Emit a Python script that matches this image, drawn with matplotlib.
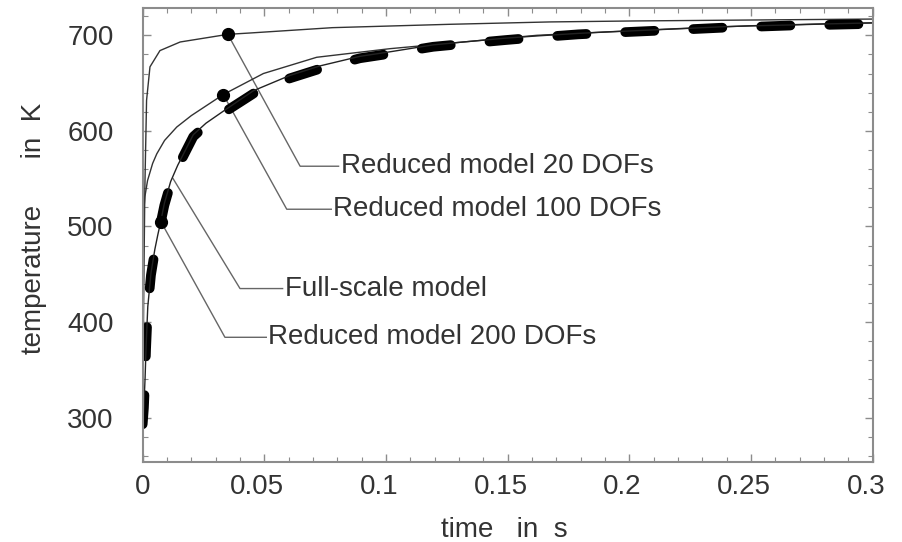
import numpy as np
import matplotlib
matplotlib.use("Agg")
import matplotlib.pyplot as plt
from matplotlib.transforms import ScaledTranslation

plt.rcParams['font.family'] = ['Liberation Sans', 'DejaVu Sans']

# curves (time in s, temperature in K)
t_full = [0, 0.0005, 0.001, 0.0014, 0.0021, 0.0034, 0.005, 0.0062, 0.0075, 0.0089,
          0.0115, 0.0144, 0.018, 0.0208, 0.026, 0.0345, 0.0455, 0.0605, 0.0729, 0.0893,
          0.1023, 0.1194, 0.1318, 0.149, 0.163, 0.179, 0.191, 0.2085, 0.222, 0.2386,
          0.252, 0.269, 0.2825, 0.3]
T_full = [293, 310, 340, 372, 414, 449, 474, 489, 505, 522,
          545, 562, 580, 594, 606, 621, 639, 655, 665, 676,
          681, 688, 691, 695, 698, 701, 702.5, 704.5, 706, 708,
          709, 710.5, 711, 712]

t_200 = [0, 0.0005, 0.001, 0.0014, 0.0021, 0.0034, 0.005, 0.0062, 0.0075, 0.0089,
         0.0115, 0.0144, 0.018, 0.0208, 0.026, 0.0345, 0.0455, 0.0605, 0.0729, 0.0893,
         0.1023, 0.1194, 0.1318, 0.149, 0.163, 0.179, 0.191, 0.2085, 0.222, 0.2386,
         0.252, 0.269, 0.2825, 0.3]
T_200 = [293, 312, 342, 374, 416, 451, 476, 491, 506, 524,
         547, 564, 582, 596, 608, 623, 642, 658, 668, 678,
         683, 690, 693, 697, 699.5, 702, 703.5, 705.5, 707, 709,
         710, 711, 712, 713]

t_100 = [0, 0.0002, 0.0005, 0.0009, 0.002, 0.0041, 0.0058, 0.009, 0.014, 0.02,
         0.0331, 0.0496, 0.0715, 0.1016, 0.1317, 0.162, 0.19, 0.22, 0.25, 0.28, 0.3]
T_100 = [293, 480, 517, 531, 548, 566, 576, 590, 604, 616,
         638, 660, 677, 686, 693, 700, 703.5, 707, 710, 712, 713]

t_20 = [0, 0.0004, 0.0009, 0.0016, 0.003, 0.0071, 0.0154, 0.035, 0.044, 0.078,
        0.126, 0.1675, 0.2015, 0.25, 0.3]
T_20 = [293, 420, 541, 632, 667, 684, 693, 701, 702.4, 708,
        711.5, 714, 715, 716, 717]

# labels: text, point on curve (t, T), kink (t, T), end of horizontal leader (t), dot?
labels = ["Reduced model 20 DOFs", "Reduced model 100 DOFs",
          "Full-scale model", "Reduced model 200 DOFs"]
anchor_t = [0.035, 0.0331, 0.0125, 0.0075]
anchor_T = [701, 638, 550, 505]
kink_t = [0.0647, 0.0592, 0.040, 0.0338]
kink_T = [563, 518, 435, 384]
end_t = [0.0805, 0.0775, 0.0575, 0.0508]
has_dot = [True, True, False, True]

xticks = [0, 0.05, 0.1, 0.15, 0.2, 0.25, 0.3]
xticklabels = ['0', '0.05', '0.1', '0.15', '0.2', '0.25', '0.3']
yticks = [300, 400, 500, 600, 700]

fig = plt.figure(figsize=(9.03, 5.42), dpi=100)
ax = fig.add_axes([0.158, 0.1467, 0.8085, 0.8393])

txt = '#333333'
grey = '#8c8c8c'

ax.plot(t_20, T_20, color='#333333', lw=1.0)
ax.plot(t_100, T_100, color='#333333', lw=1.0)
full, = ax.plot(t_full, T_full, color='black', lw=7, dashes=(3, 4))
full.set_dash_capstyle('round')
ax.plot(t_200, T_200, color='#222222', lw=1.0)

for i, lab in enumerate(labels):
    ax.plot([anchor_t[i], kink_t[i], end_t[i]], [anchor_T[i], kink_T[i], kink_T[i]],
            color='#666666', lw=1.0, zorder=1)
    if has_dot[i]:
        ax.plot(anchor_t[i], anchor_T[i], 'o', color='black', ms=8.5, zorder=4)
    ax.text(end_t[i] + 0.0008, kink_T[i], lab, fontsize=20, color=txt,
            ha='left', va='center')

ax.set_xlim(0, 0.3)
ax.set_ylim(253, 729)
ax.set_xticks(xticks)
ax.set_xticklabels(xticklabels)
ax.set_yticks(yticks)
ax.set_xticks(np.arange(0, 0.3001, 0.01), minor=True)
ax.set_yticks(np.arange(260, 729, 20), minor=True)

ax.tick_params(which='both', direction='in', top=True, right=True, colors=grey,
               labelcolor=txt, labelsize=20)
ax.tick_params(which='major', length=6, width=1.0)
ax.tick_params(which='minor', length=3.5, width=0.8)
ax.tick_params(axis='y', pad=21)
ax.tick_params(axis='x', pad=8)

for s in ax.spines.values():
    s.set_color(grey)
    s.set_linewidth(1.5)

# non-zero x labels sit a bit left of their ticks
for lbl in ax.get_xticklabels()[1:]:
    lbl.set_transform(lbl.get_transform() + ScaledTranslation(-7 / 100, 0, fig.dpi_scale_trans))

ax.set_xlabel('time   in  s', fontsize=20, color=txt, va='center')
ax.xaxis.set_label_coords(0.496, -0.148)
ax.set_ylabel('temperature      in  K', fontsize=20, color=txt, va='center')
ax.yaxis.set_label_coords(-0.149, 0.515)

fig.savefig('out.png', dpi=100)
